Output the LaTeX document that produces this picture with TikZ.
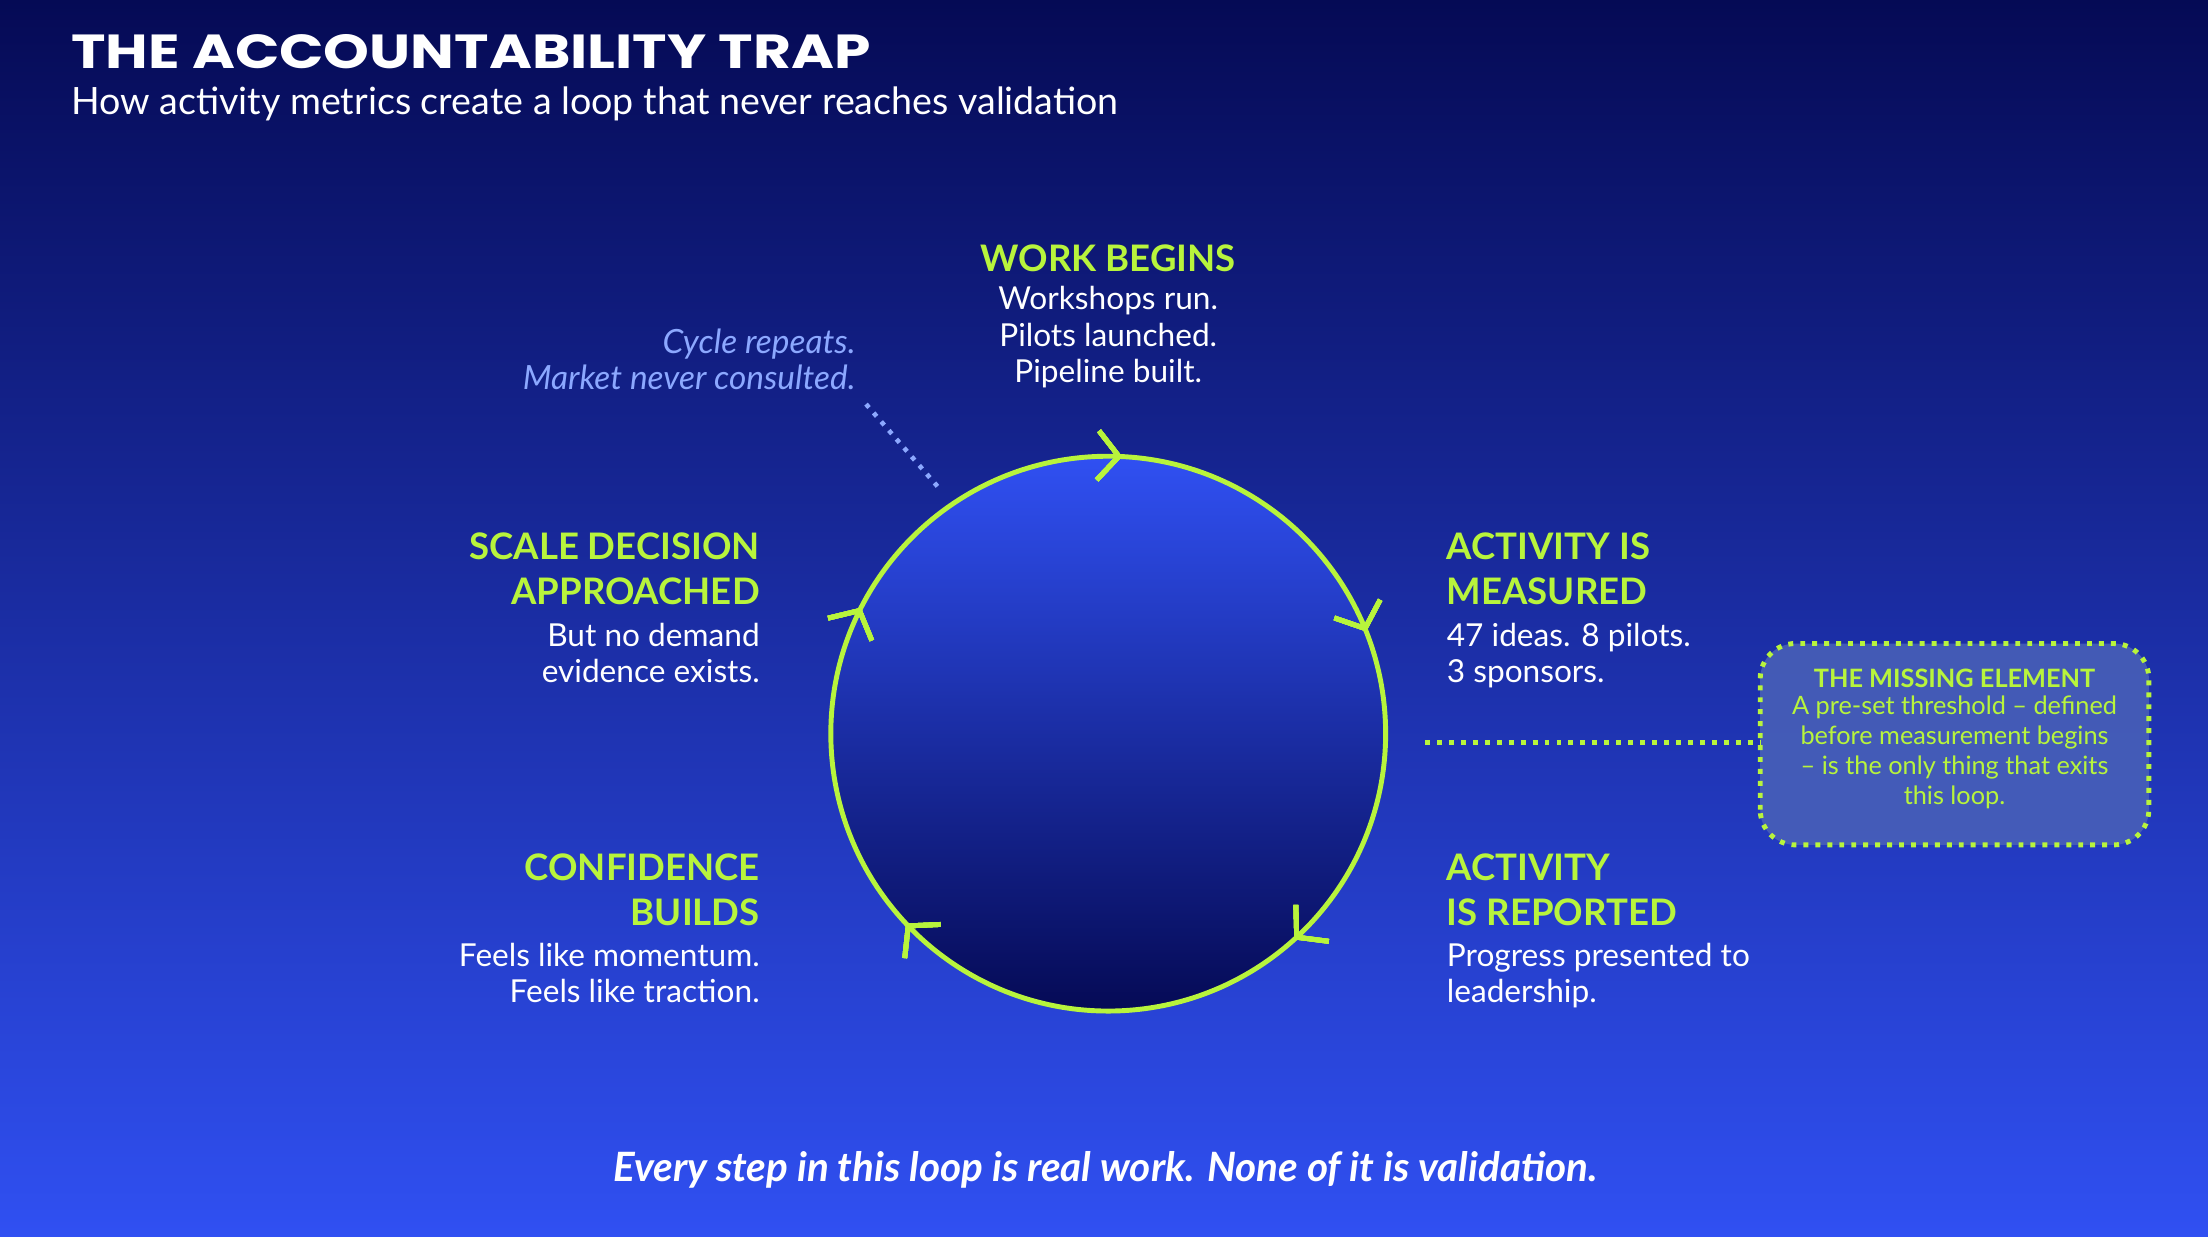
\documentclass[tikz,border=0pt]{standalone}
\usepackage{fontspec}
\setmainfont{Lato}
\newfontfamily\titlefont[FakeStretch=1.22]{Poppins}
\usetikzlibrary{arrows.meta,decorations.markings}
\definecolor{lime}{HTML}{B8F43C}
\definecolor{navy}{HTML}{050A55}
\definecolor{bblue}{HTML}{3050F2}
\definecolor{cyc}{HTML}{8CA8FF}
\definecolor{boxc}{HTML}{4A62B8}
\begin{document}
\begin{tikzpicture}[x=0.01408cm,y=0.01408cm,
  hd/.style={text=lime,font=\bfseries\fontsize{10.4}{12.8}\selectfont,inner sep=0},
  bd/.style={text=white,font=\fontsize{9}{10.4}\selectfont,inner sep=0},
  chev/.style={decoration={markings,mark=at position #1 with {\arrow[lime,line width=1.4pt]{Straight Barb[length=6pt,width=14pt]}}},postaction={decorate}}]
\useasboundingbox (0,0) rectangle (1568,878);
\shade[top color=navy,bottom color=bblue] (0,0) rectangle (1568,878);
% title
\node[anchor=west,text=white,inner sep=0,font=\titlefont\bfseries\fontsize{13.6}{16}\selectfont] (t) at (50,841) {THE ACCOUNTABILITY TRAP};
\node[anchor=west,text=white,inner sep=0,font=\fontsize{10.7}{12}\selectfont] (st) at (50,804) {How activity metrics create a loop that never reaches validation};
% circle
\coordinate (c) at (787,357);
\shade[top color=bblue,bottom color=navy] (c) circle[radius=197];
\draw[lime,line width=1.4pt,chev=0.008,chev=0.19,chev=0.383,chev=0.63,chev=0.825]
  (787,554) arc[start angle=90,end angle=-270,radius=197];
% labels
\node[hd,anchor=north] (wb) at (787,705) {WORK BEGINS};
\node[bd,anchor=north,align=center] (wbt) at (787,675) {Workshops run.\\Pilots launched.\\Pipeline built.};
\node[hd,anchor=north west,align=left] (am) at (1027,500) {ACTIVITY IS\\MEASURED};
\node[bd,anchor=north west,align=left] (amt) at (1027,436) {47 ideas. 8 pilots.\\3 sponsors.};
\node[hd,anchor=north west,align=left] (ar) at (1027,272) {ACTIVITY\\IS REPORTED};
\node[bd,anchor=north west,align=left] (art) at (1027,209) {Progress presented to\\leadership.};
\node[hd,anchor=north east,align=right] (sd) at (540,500) {SCALE DECISION\\APPROACHED};
\node[bd,anchor=north east,align=right] (sdt) at (540,436) {But no demand\\evidence exists.};
\node[hd,anchor=north east,align=right] (cb) at (540,272) {CONFIDENCE\\BUILDS};
\node[bd,anchor=north east,align=right] (cbt) at (540,209) {Feels like momentum.\\Feels like traction.};
\node[anchor=north east,align=right,text=cyc,inner sep=0,font=\itshape\fontsize{9.5}{10.4}\selectfont] (cr) at (608,645) {Cycle repeats.\\Market never consulted.};
\coordinate (cr1) at (615,591);
\coordinate (cr2) at (668,530);
\draw[cyc,line width=1.3pt,dotted] (cr1) -- (cr2);
% missing element box
\draw[lime,dotted,line width=1.4pt,rounded corners=10pt,fill=boxc,fill opacity=0.85] (1250,278) rectangle (1526,421);
\coordinate (bw) at (1250,351);
\node[text=lime,font=\bfseries\fontsize{7.2}{8}\selectfont,inner sep=0] (bh) at (1388,396) {THE MISSING ELEMENT};
\node[text=lime,align=center,font=\fontsize{7.2}{8.5}\selectfont,inner sep=0,anchor=north] (bb) at (1388,384) {A pre-set threshold – defined\\before measurement begins\\– is the only thing that exits\\this loop.};
\coordinate (d1) at (1012,351);
\draw[lime,line width=1.4pt,dotted] (d1) -- (bw);
% footer
\node[text=white,font=\bfseries\itshape\fontsize{11.5}{12}\selectfont,inner sep=0] (ft) at (785,47) {Every step in this loop is real work. None of it is validation.};
\end{tikzpicture}
\end{document}
